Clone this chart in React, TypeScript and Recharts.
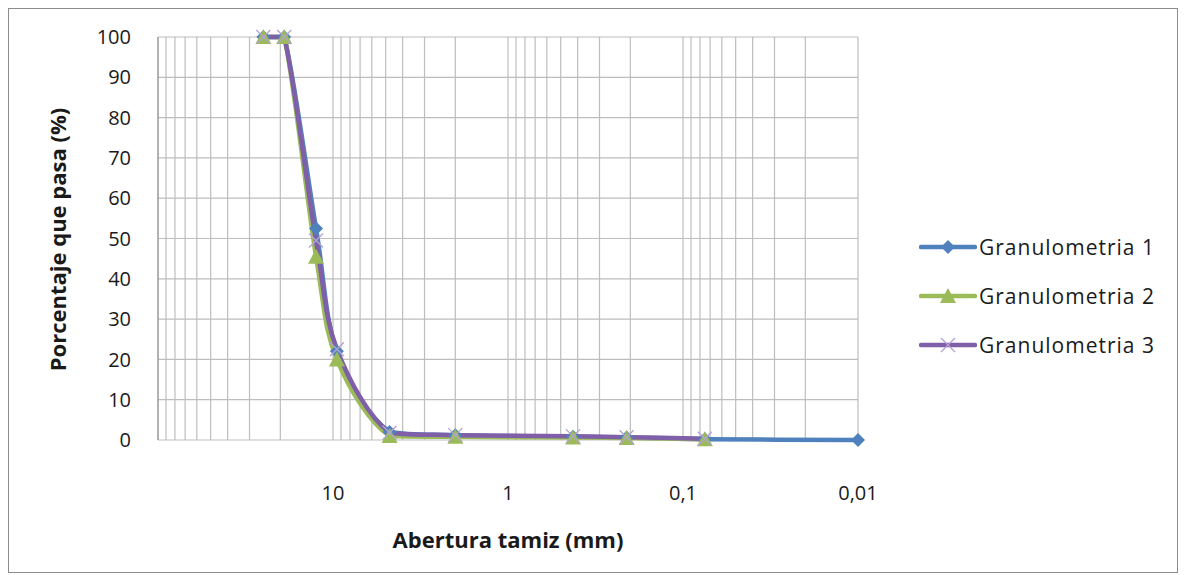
import { LineChart, Line, XAxis, YAxis, CartesianGrid, Legend } from 'recharts';

// abertura de tamiz (mm) y porcentaje que pasa
const aberturas1 = [25, 19, 12.5, 9.5, 4.75, 2, 0.425, 0.21, 0.075, 0.01];
const pasa1 = [100, 100, 52.5, 22, 2, 1.2, 0.8, 0.6, 0.2, 0];

const aberturas2 = [25, 19, 12.5, 9.5, 4.75, 2, 0.425, 0.21, 0.075];
const pasa2 = [100, 100, 45.5, 20, 1, 0.8, 0.6, 0.5, 0.2];

const aberturas3 = [25, 19, 12.5, 9.5, 4.75, 2, 0.425, 0.21, 0.075];
const pasa3 = [100, 100, 49.5, 22.5, 1.8, 1.2, 0.9, 0.7, 0.3];

const decadas = [100, 10, 1, 0.1, 0.01];
const etiquetasX = ['', '10', '1', '0,1', '0,01'];
const multiplos = [9, 8, 7, 6, 5, 4, 3, 2];
const ticksY = [0, 10, 20, 30, 40, 50, 60, 70, 80, 90, 100];

const nombres = ['Granulometria 1', 'Granulometria 2', 'Granulometria 3'];
const colores = ['#4F81BD', '#9BBB59', '#7F5FA8'];

const FONT = '"Open Sans", Calibri, sans-serif';

const toRows = (xs: number[], ys: number[]) => xs.map((x, i) => ({ x, y: ys[i] }));
const serie1 = toRows(aberturas1, pasa1);
const serie2 = toRows(aberturas2, pasa2);
const serie3 = toRows(aberturas3, pasa3);

// 100, 90 ... 20, 10, 9 ... 0.01 for the log grid
const ticksX: number[] = [];
decadas.forEach((d) => {
  ticksX.push(d);
  if (d > 0.01) multiplos.forEach((m) => ticksX.push(+((m * d) / 10).toPrecision(3)));
});

// excel style smoothed line (bezier, 1/6 tension), control y kept inside the segment
// so it doesn't poke over 100 or under 0 (excel hides that by clipping)
const excelSmooth = (ctx: any) => {
  let pts: number[][] = [];
  const clampY = (v: number, a: number, b: number) => Math.min(Math.max(v, Math.min(a, b)), Math.max(a, b));
  return {
    areaStart() {},
    areaEnd() {},
    lineStart() {
      pts = [];
    },
    point(x: number, y: number) {
      pts.push([+x, +y]);
    },
    lineEnd() {
      if (!pts.length) return;
      ctx.moveTo(pts[0][0], pts[0][1]);
      for (let i = 0; i < pts.length - 1; i++) {
        const p0 = pts[i - 1] || pts[i];
        const p1 = pts[i];
        const p2 = pts[i + 1];
        const p3 = pts[i + 2] || p2;
        ctx.bezierCurveTo(
          p1[0] + (p2[0] - p0[0]) / 6,
          clampY(p1[1] + (p2[1] - p0[1]) / 6, p1[1], p2[1]),
          p2[0] - (p3[0] - p1[0]) / 6,
          clampY(p2[1] - (p3[1] - p1[1]) / 6, p1[1], p2[1]),
          p2[0],
          p2[1]
        );
      }
    },
  };
};

const Diamond = (cx: number, cy: number) => (
  <polygon
    points={`${cx},${cy - 7} ${cx + 7},${cy} ${cx},${cy + 7} ${cx - 7},${cy}`}
    fill={colores[0]}
  />
);
const Triangle = (cx: number, cy: number) => (
  <polygon
    points={`${cx},${cy - 8} ${cx + 8},${cy + 7} ${cx - 8},${cy + 7}`}
    fill={colores[1]}
  />
);
const Cross = (cx: number, cy: number) => (
  <g stroke="#B3A2CF" strokeWidth={1.3}>
    <line x1={cx - 7} y1={cy - 7} x2={cx + 7} y2={cy + 7} />
    <line x1={cx - 7} y1={cy + 7} x2={cx + 7} y2={cy - 7} />
  </g>
);
const markers = [Diamond, Triangle, Cross];

const makeDot = (idx: number) => (props: any) => {
  const { cx, cy, key } = props;
  if (cx == null || cy == null) return <g key={key} />;
  return <g key={key}>{markers[idx](cx, cy)}</g>;
};

const XTick = (props: any) => {
  const { x, y, payload } = props;
  const i = decadas.indexOf(payload.value);
  if (i < 1) return <g />;
  return (
    <text x={x} y={y + 44} textAnchor="middle" dominantBaseline="central" fontSize={20} fill="#1a1a1a" fontFamily={FONT}>
      {etiquetasX[i]}
    </text>
  );
};

const LegendBox = () => (
  <div style={{ fontFamily: FONT, fontSize: 21, color: '#1a1a1a' }}>
    {nombres.map((n, i) => (
      <div key={n} style={{ display: 'flex', alignItems: 'center', height: 49 }}>
        <svg width={58} height={20}>
          <line x1={2} y1={10} x2={56} y2={10} stroke={colores[i]} strokeWidth={4.5} strokeLinecap="round" />
          {markers[i](29, 10)}
        </svg>
        <span style={{ marginLeft: 2, letterSpacing: 1 }}>{n}</span>
      </div>
    ))}
  </div>
);

export default function App() {
  return (
    <div style={{ width: 1170, height: 565, border: '1px solid #8c8c8c', boxSizing: 'border-box', position: 'relative', background: '#fff' }}>
      <LineChart width={1168} height={563} margin={{ top: 28, right: 319, bottom: 12, left: 49 }}>
        <CartesianGrid stroke="#BDBDBD" strokeWidth={1.2} />
        <XAxis
          dataKey="x"
          type="number"
          scale="log"
          domain={[0.01, 100]}
          reversed
          ticks={ticksX}
          interval={0}
          tick={<XTick />}
          tickLine={false}
          axisLine={false}
          height={120}
          label={{ value: 'Abertura tamiz (mm)', position: 'insideBottom', offset: 12, fontSize: 22, fontWeight: 'bold', fill: '#1a1a1a', fontFamily: FONT }}
        />
        <YAxis
          type="number"
          domain={[0, 100]}
          ticks={ticksY}
          interval={0}
          width={100}
          tickSize={0}
          tickMargin={27}
          tickLine={false}
          axisLine={{ stroke: '#8c8c8c' }}
          tick={{ fontSize: 20, fill: '#1a1a1a', fontFamily: FONT }}
          label={{
            content: (p: any) => {
              const vb = p.viewBox;
              const cx = vb.x - 1;
              const cy = vb.y + vb.height / 2 + 1;
              return (
                <text x={cx} y={cy} transform={`rotate(-90, ${cx}, ${cy})`} textAnchor="middle" dominantBaseline="central" fontSize={22} fontWeight="bold" fill="#1a1a1a" fontFamily={FONT}>
                  Porcentaje que pasa (%)
                </text>
              );
            },
          }}
        />
        <Legend
          layout="horizontal"
          verticalAlign="middle"
          align="center"
          content={<LegendBox />}
          wrapperStyle={{ left: 910, top: 213, width: 270 }}
        />
        <Line data={serie1} dataKey="y" name={nombres[0]} type={excelSmooth as any} stroke={colores[0]} strokeWidth={4.5} dot={makeDot(0)} activeDot={false} isAnimationActive={false} />
        <Line data={serie2} dataKey="y" name={nombres[1]} type={excelSmooth as any} stroke={colores[1]} strokeWidth={4.5} dot={makeDot(1)} activeDot={false} isAnimationActive={false} />
        <Line data={serie3} dataKey="y" name={nombres[2]} type={excelSmooth as any} stroke={colores[2]} strokeWidth={4.5} dot={makeDot(2)} activeDot={false} isAnimationActive={false} />
      </LineChart>
    </div>
  );
}
